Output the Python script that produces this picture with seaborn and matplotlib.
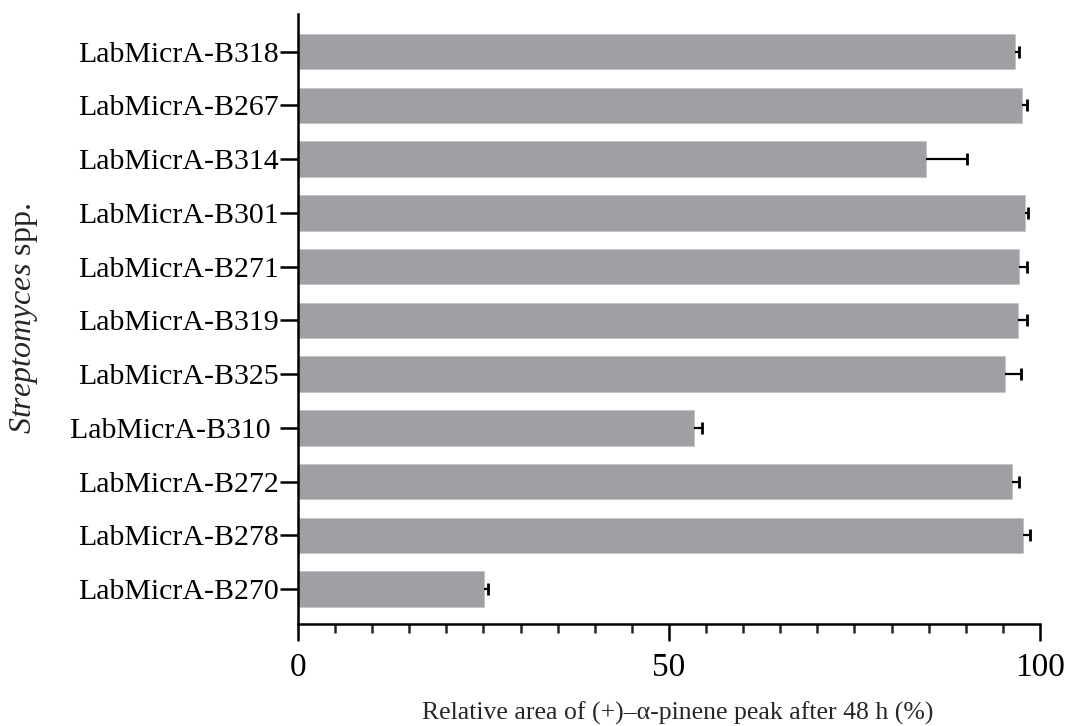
import matplotlib
matplotlib.use("Agg")
import matplotlib.pyplot as plt
import seaborn as sns
import numpy as np
import pandas as pd

# Strains, mean relative peak area (%) and standard deviation
strains = [
    "LabMicrA-B318", "LabMicrA-B267", "LabMicrA-B314", "LabMicrA-B301",
    "LabMicrA-B271", "LabMicrA-B319", "LabMicrA-B325", "LabMicrA-B310 ",
    "LabMicrA-B272", "LabMicrA-B278", "LabMicrA-B270",
]
means = [96.7, 97.6, 84.7, 98.0, 97.2, 97.0, 95.3, 53.4, 96.2, 97.7, 25.1]
errors = [0.5, 0.6, 5.4, 0.45, 1.1, 1.3, 2.1, 1.1, 1.0, 1.0, 0.5]

x_ticks = [0, 50, 100]
x_label = "Relative area of (+)\u2013\u03b1-pinene peak after 48 h (%)"

df = pd.DataFrame({"strain": strains, "area": means})

sns.set_style("ticks")
plt.rcParams["font.family"] = ["Liberation Serif", "DejaVu Serif"]
plt.rcParams["mathtext.fontset"] = "custom"
plt.rcParams["mathtext.rm"] = "Liberation Serif"
plt.rcParams["mathtext.it"] = "Liberation Serif:italic"

fig = plt.figure(figsize=(10.65, 7.26), dpi=100)
ax = fig.add_axes([0.2798, 0.1405, 0.9765 - 0.2798, 0.9807 - 0.1405])

bar_color = "#a09fa4"
sns.barplot(data=df, x="area", y="strain", orient="h", color=bar_color,
            width=0.66, errorbar=None, saturation=1, ax=ax,
            edgecolor="#c4c4c8", linewidth=0.6)

# one-sided error bars: whisker from the bar end to mean + SD, cap at the tip
ypos = np.arange(len(strains))
tips = np.asarray(means) + np.asarray(errors)
ax.hlines(ypos, means, tips, color="black", linewidth=1.6, zorder=5)
ax.plot(tips, ypos, linestyle="none", marker="|", markersize=9,
        markeredgewidth=2.0, color="black", zorder=5, clip_on=False)

ax.set_xlim(0, 100)
ax.set_ylim(len(strains) - 0.35, -0.7)
ax.set_xticks(x_ticks)
ax.set_xticks(np.arange(0, 101, 5), minor=True)
ax.set_xticklabels([str(t) for t in x_ticks])

for side in ("top", "right"):
    ax.spines[side].set_visible(False)
for side in ("left", "bottom"):
    ax.spines[side].set_linewidth(1.8)
    ax.spines[side].set_color("black")

ax.tick_params(axis="x", which="major", length=12.5, width=1.8, pad=8,
               labelsize=24, colors="black")
ax.tick_params(axis="x", which="minor", length=6.5, width=1.8)
ax.tick_params(axis="y", which="major", length=13, width=1.8, pad=1,
               labelsize=21.5, colors="black")

ax.set_xlabel(x_label, fontsize=18.5)
ax.xaxis.set_label_coords(0.512, -0.128)
ax.set_ylabel(r"$\it{Streptomyces}$ spp.", fontsize=23)
ax.yaxis.set_label_coords(-0.348, 0.5)

fig.savefig("out.png", dpi=100)
